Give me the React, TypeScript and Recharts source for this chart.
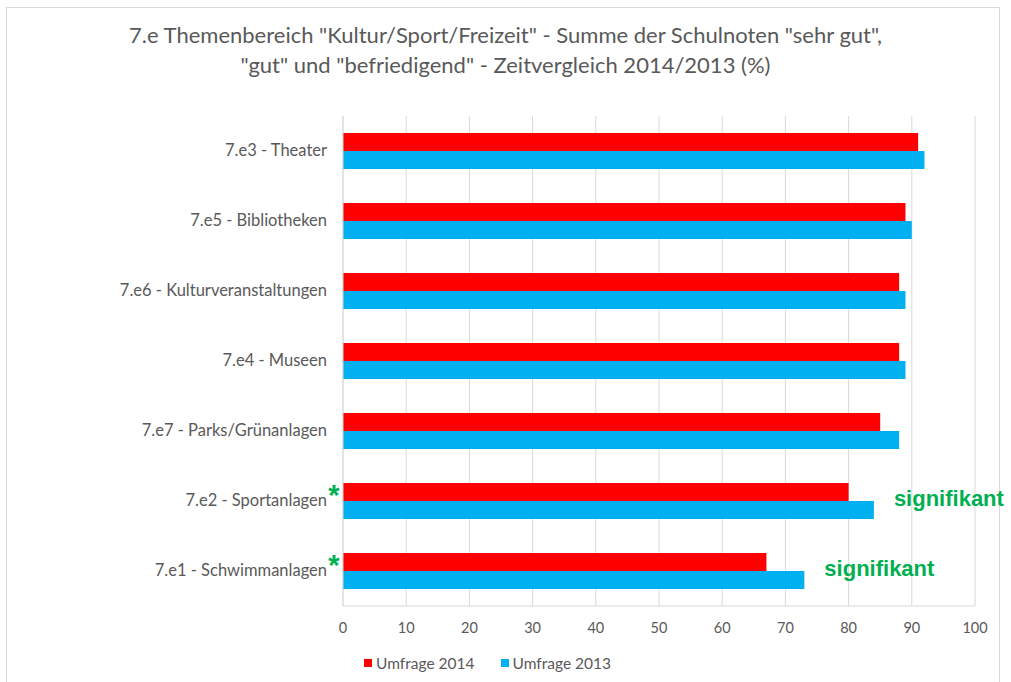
import { Bar, BarChart, CartesianGrid, LabelList, Legend, XAxis, YAxis } from 'recharts'

const KATEGORIEN = [
  '7.e3 - Theater',
  '7.e5 - Bibliotheken',
  '7.e6 - Kulturveranstaltungen',
  '7.e4 - Museen',
  '7.e7 - Parks/Grünanlagen',
  '7.e2 - Sportanlagen',
  '7.e1 - Schwimmanlagen',
]
const UMFRAGE_2014 = [91, 89, 88, 88, 85, 80, 67]
const UMFRAGE_2013 = [92, 90, 89, 89, 88, 84, 73]
const SIGNIFIKANT = ['7.e2 - Sportanlagen', '7.e1 - Schwimmanlagen']
const X_TICKS = [0, 10, 20, 30, 40, 50, 60, 70, 80, 90, 100]
const LEGENDE = ['Umfrage 2014', 'Umfrage 2013']

const TITEL_1 = '7.e Themenbereich "Kultur/Sport/Freizeit" - Summe der Schulnoten "sehr gut",'
const TITEL_2 = '"gut" und "befriedigend" - Zeitvergleich 2014/2013 (%)'

const FONT = 'Lato, "Open Sans", sans-serif'
const GRAU = '#595959'
const GRUEN = '#00b050'

const data = KATEGORIEN.map((name, i) => ({
  name,
  u2014: UMFRAGE_2014[i],
  u2013: UMFRAGE_2013[i],
  sig: SIGNIFIKANT.includes(name) ? 'signifikant' : '',
}))

function CategoryTick({ x, y, payload }: any) {
  const sig = SIGNIFIKANT.includes(payload.value)
  return (
    <g>
      <text x={x - 16} y={y} dy={5} textAnchor="end" fill={GRAU} fontSize={16.5} fontFamily={FONT}>
        {payload.value}
      </text>
      {sig && (
        <text
          x={x - 9}
          y={y + 4}
          textAnchor="middle"
          fill={GRUEN}
          fontSize={29}
          fontWeight="bold"
          fontFamily="Liberation Sans, sans-serif"
        >
          *
        </text>
      )}
    </g>
  )
}

function SigLabel({ x, y, width, value }: any) {
  if (!value) return null
  return (
    <text
      x={x + width + 20}
      y={y + 5}
      fill={GRUEN}
      fontSize={22}
      fontWeight="bold"
      fontFamily="Liberation Sans, Arial, sans-serif"
    >
      {value}
    </text>
  )
}

function LegendContent({ payload }: any) {
  const items = [...(payload ?? [])].sort((a: any, b: any) => LEGENDE.indexOf(a.value) - LEGENDE.indexOf(b.value))
  return (
    <div
      style={{
        display: 'flex',
        justifyContent: 'center',
        alignItems: 'center',
        gap: 26,
        height: 30,
        fontFamily: FONT,
        fontSize: 15.5,
        color: GRAU,
      }}
    >
      {items.map((p: any) => (
        <span key={p.value} style={{ display: 'flex', alignItems: 'center', gap: 4 }}>
          <span style={{ display: 'inline-block', width: 8, height: 8, background: p.color }} />
          {p.value}
        </span>
      ))}
    </div>
  )
}

export default function App() {
  return (
    <div style={{ position: 'absolute', left: 0, top: 0, width: 1011, height: 682, background: '#fff' }}>
      <div
        style={{
          position: 'absolute',
          left: 6,
          top: 7,
          width: 994,
          height: 680,
          border: '1px solid #d9d9d9',
          boxSizing: 'border-box',
        }}
      />
      <div
        style={{
          position: 'absolute',
          left: 0,
          top: 20,
          width: 1011,
          textAlign: 'center',
          fontFamily: FONT,
          fontSize: 22,
          lineHeight: '30px',
          color: GRAU,
        }}
      >
        <div>{TITEL_1}</div>
        <div>{TITEL_2}</div>
      </div>
      <div style={{ position: 'absolute', left: 0, top: 0 }}>
        <BarChart
          width={1011}
          height={682}
          data={data}
          layout="vertical"
          margin={{ top: 116, right: 36, bottom: 4, left: 0 }}
          barGap={0}
          barSize={18}
        >
          <CartesianGrid horizontal={false} stroke="#d9d9d9" />
          <XAxis
            type="number"
            domain={[0, 100]}
            ticks={X_TICKS}
            interval={0}
            height={42}
            tickSize={0}
            tickMargin={17}
            axisLine={{ stroke: '#d9d9d9' }}
            tick={{ fill: GRAU, fontSize: 14.5, fontFamily: FONT }}
          />
          <YAxis
            type="category"
            dataKey="name"
            width={343}
            tickSize={0}
            tickMargin={0}
            axisLine={{ stroke: '#d9d9d9' }}
            tick={<CategoryTick />}
          />
          <Legend verticalAlign="bottom" height={30} content={<LegendContent />} />
          <Bar dataKey="u2014" name="Umfrage 2014" fill="#ff0000" isAnimationActive={false} />
          <Bar dataKey="u2013" name="Umfrage 2013" fill="#00b0f0" isAnimationActive={false}>
            <LabelList dataKey="sig" content={<SigLabel />} />
          </Bar>
        </BarChart>
      </div>
    </div>
  )
}
